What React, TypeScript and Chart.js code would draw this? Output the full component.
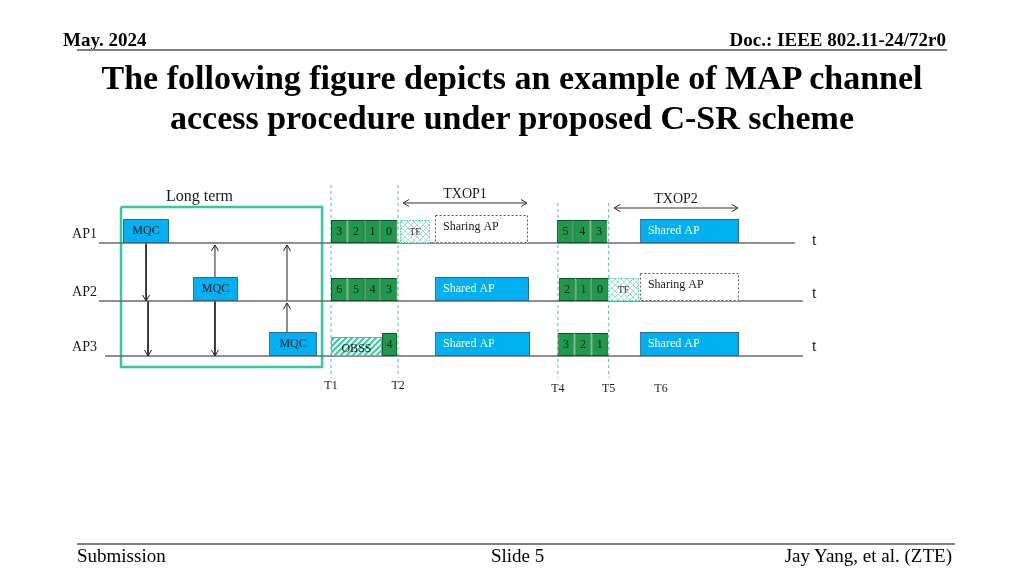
import React, { useEffect, useRef } from "react";
import { Chart, registerables } from "chart.js";

Chart.register(...registerables);

// ---------------- DATA (time in backoff slots, T1 = 0) ----------------
const ROWS = ["AP1", "AP2", "AP3"];

// frames per AP: [kind, label, start slot, end slot]
type Frame = [string, string, number, number];
const AP1_FRAMES: Frame[] = [
  ["mqc", "MQC", -12.53, -9.76],
  ["backoff", "3", 0, 1], ["backoff", "2", 1, 2], ["backoff", "1", 2, 3], ["backoff", "0", 3, 4],
  ["tf", "TF", 4.16, 5.96],
  ["sharing", "Sharing AP", 6.27, 11.87],
  ["backoff", "5", 13.62, 14.63], ["backoff", "4", 14.63, 15.64], ["backoff", "3", 15.64, 16.65],
  ["shared", "Shared AP", 18.61, 24.58],
];
const AP2_FRAMES: Frame[] = [
  ["mqc", "MQC", -8.31, -5.6],
  ["backoff", "6", 0, 1], ["backoff", "5", 1, 2], ["backoff", "4", 2, 3], ["backoff", "3", 3, 4],
  ["shared", "Shared AP", 6.27, 11.93],
  ["backoff", "2", 13.73, 14.72], ["backoff", "1", 14.72, 15.71], ["backoff", "0", 15.71, 16.7],
  ["tf", "TF", 16.7, 18.55],
  ["sharing", "Sharing AP", 18.61, 24.58],
];
const AP3_FRAMES: Frame[] = [
  ["mqc", "MQC", -3.73, -0.84],
  ["obss", "OBSS", 0, 3.07], ["backoff", "4", 3.07, 3.98],
  ["shared", "Shared AP", 6.27, 11.99],
  ["backoff", "3", 13.65, 14.67], ["backoff", "2", 14.67, 15.69], ["backoff", "1", 15.69, 16.7],
  ["shared", "Shared AP", 18.61, 24.58],
];

const ROW_LINE_START = [-13.98, -13.98, -13.61];
const ROW_LINE_END = [27.95, 28.43, 28.43];

const T_LABELS = ["T1", "T2", "T4", "T5", "T6"];
const T_TIMES = [0, 4.04, 13.67, 16.73, 19.88];
const T_HAS_LINE = [true, true, true, true, false];

const TXOP_LABELS = ["TXOP1", "TXOP2"];
const TXOP_START = [4.34, 17.05];
const TXOP_END = [11.81, 24.52];

const LONG_TERM_LABEL = "Long term";
const LONG_TERM_START = -12.65;
const LONG_TERM_END = -0.54;
const LONG_TERM_LABEL_AT = -7.92;

// MQC signalling links: [time, MQC row, from row, to row]
const MQC_LINKS: [number, number, number, number][] = [
  [-11.14, 0, 0, 1], [-11.02, 0, 1, 2],
  [-6.99, 1, 1, 0], [-6.99, 1, 1, 2],
  [-2.65, 2, 2, 1], [-2.65, 2, 1, 0],
];

// ---------------- LAYOUT / STYLE ----------------
const X_MIN = -19.94;
const X_MAX = 41.75;
const ROW_LEVEL = [243, 301, 356];
const TXOP_LEVEL = [203, 208];
const LONG_TERM_TOP = 207;
const LONG_TERM_BOTTOM = 367;
const T_LINE_TOP = [185, 185, 203, 203, 203];
const T_LINE_BOTTOM = 378;
const T_LABEL_LEVEL = [389, 389, 392, 392, 392];
const T_MARK_LEVEL = [245, 298, 351];
const AP_LABEL_X = -15.6;
const T_MARK_X = 28.98;

const SERIF = '"Liberation Serif", "Times New Roman", serif';
const GREEN = "#1f9a4c";
const GREEN_EDGE = "#0d5427";
const BLUE = "#00b0f0";
const BLUE_EDGE = "#2a6a94";
const TEAL = "#3cc8a2";
const DARK = "#1a1a1a";

type KindStyle = {
  h: number; stroke: string; bw: number; text: string; fs: number;
  align: "left" | "center"; dash?: number[]; dashColor?: string;
};
const KIND: Record<string, KindStyle> = {
  backoff: { h: 23, stroke: GREEN_EDGE, bw: 1, text: DARK, fs: 12, align: "center" },
  mqc: { h: 24, stroke: BLUE_EDGE, bw: 1, text: DARK, fs: 12, align: "center" },
  shared: { h: 24, stroke: BLUE_EDGE, bw: 1, text: "#ffffff", fs: 12, align: "left" },
  sharing: { h: 28, stroke: "rgba(0,0,0,0)", bw: 0, text: DARK, fs: 12, align: "left", dash: [2, 2], dashColor: "#555555" },
  tf: { h: 23, stroke: "rgba(0,0,0,0)", bw: 0, text: "#333333", fs: 10, align: "center", dash: [1.5, 1.5], dashColor: TEAL },
  obss: { h: 19, stroke: TEAL, bw: 1, text: DARK, fs: 12, align: "center" },
};

const ALL_FRAMES = [AP1_FRAMES, AP2_FRAMES, AP3_FRAMES].flatMap((list, row) =>
  list.map(([kind, label, start, end]) => ({ row, kind, label, start, end }))
);

function makePattern(kind: "stripe" | "cross"): CanvasPattern | string {
  const c = document.createElement("canvas");
  c.width = 6; c.height = 6;
  const g = c.getContext("2d");
  if (!g) return "#ffffff";
  g.fillStyle = "#ffffff";
  g.fillRect(0, 0, 6, 6);
  g.strokeStyle = kind === "stripe" ? TEAL : "#8fdcc4";
  g.lineWidth = kind === "stripe" ? 2 : 0.8;
  g.beginPath();
  g.moveTo(-1, 7); g.lineTo(7, -1);
  g.moveTo(-4, 4); g.lineTo(4, -4);
  g.moveTo(2, 10); g.lineTo(10, 2);
  if (kind === "cross") {
    g.moveTo(-1, -1); g.lineTo(7, 7);
    g.moveTo(-4, 2); g.lineTo(4, 10);
    g.moveTo(2, -4); g.lineTo(10, 4);
  }
  g.stroke();
  return g.createPattern(c, "repeat") || "#ffffff";
}

function arrowHead(ctx: CanvasRenderingContext2D, x: number, y: number, dx: number, dy: number) {
  const len = 6, w = 3.5;
  ctx.beginPath();
  ctx.moveTo(x - dx * len - dy * w, y - dy * len + dx * w);
  ctx.lineTo(x, y);
  ctx.lineTo(x - dx * len + dy * w, y - dy * len - dx * w);
  ctx.stroke();
}

function linkEnds(link: [number, number, number, number]) {
  const [, mqcRow, from, to] = link;
  const up = to < from;
  const y0 = from === mqcRow && up ? ROW_LEVEL[from] - KIND.mqc.h : ROW_LEVEL[from];
  const y1 = up ? ROW_LEVEL[to] + 2 : ROW_LEVEL[to];
  return { y0, y1, up };
}

const diagramPlugin = {
  id: "diagram",
  afterDatasetsDraw(chart: any) {
    const ctx: CanvasRenderingContext2D = chart.ctx;
    const xs = chart.scales.x;
    const ys = chart.scales.y;
    const X = (t: number) => xs.getPixelForValue(t);
    const Y = (v: number) => ys.getPixelForValue(v);
    ctx.save();

    // frame dashed borders + labels
    ALL_FRAMES.forEach((f) => {
      const st = KIND[f.kind];
      const left = X(f.start), right = X(f.end);
      const bottom = Y(ROW_LEVEL[f.row]);
      const top = Y(ROW_LEVEL[f.row] - st.h);
      if (st.dash) {
        ctx.setLineDash(st.dash);
        ctx.strokeStyle = st.dashColor || "#555";
        ctx.lineWidth = 1;
        ctx.strokeRect(left + 0.5, top + 0.5, right - left - 1, bottom - top - 1);
        ctx.setLineDash([]);
      }
      ctx.font = `${st.fs}px ${SERIF}`;
      ctx.fillStyle = st.text;
      ctx.textBaseline = "middle";
      const ty = Y(ROW_LEVEL[f.row] - st.h + 12);
      if (st.align === "left") {
        ctx.textAlign = "left";
        ctx.fillText(f.label, left + 8, ty);
      } else {
        ctx.textAlign = "center";
        ctx.fillText(f.label, (left + right) / 2, ty);
      }
    });

    // arrow heads for MQC links
    ctx.strokeStyle = "#222222";
    ctx.lineWidth = 1;
    MQC_LINKS.forEach((l) => {
      const { y1, up } = linkEnds(l);
      arrowHead(ctx, X(l[0]), Y(y1), 0, up ? -1 : 1);
    });
    // TXOP arrows
    ctx.strokeStyle = "#333333";
    TXOP_LABELS.forEach((lab, i) => {
      const y = Y(TXOP_LEVEL[i]);
      arrowHead(ctx, X(TXOP_START[i]), y, -1, 0);
      arrowHead(ctx, X(TXOP_END[i]), y, 1, 0);
      ctx.font = `14px ${SERIF}`;
      ctx.fillStyle = DARK;
      ctx.textAlign = "center";
      ctx.textBaseline = "alphabetic";
      ctx.fillText(lab, X((TXOP_START[i] + TXOP_END[i]) / 2), y - 5);
    });

    ctx.fillStyle = DARK;
    ctx.textBaseline = "alphabetic";
    // AP labels + t marks
    ROWS.forEach((r, i) => {
      ctx.font = `14px ${SERIF}`;
      ctx.textAlign = "left";
      ctx.fillText(r, X(AP_LABEL_X), Y(ROW_LEVEL[i] - 5));
      ctx.font = `16px ${SERIF}`;
      ctx.fillText("t", X(T_MARK_X), Y(T_MARK_LEVEL[i]));
    });
    // T labels
    ctx.font = `12px ${SERIF}`;
    ctx.textAlign = "center";
    T_LABELS.forEach((lab, i) => ctx.fillText(lab, X(T_TIMES[i]), Y(T_LABEL_LEVEL[i])));
    // Long term
    ctx.font = `16px ${SERIF}`;
    ctx.fillText(LONG_TERM_LABEL, X(LONG_TERM_LABEL_AT), Y(LONG_TERM_TOP - 6));
    ctx.restore();
  },
};

function buildDatasets(stripe: any, cross: any) {
  const ds: any[] = [];
  Object.keys(KIND).forEach((kind) => {
    const st = KIND[kind];
    const pts = ALL_FRAMES.filter((f) => f.kind === kind).map((f) => ({
      x: [f.start, f.end],
      y: ROW_LEVEL[f.row] - st.h / 2,
    }));
    const fill =
      kind === "backoff" ? GREEN :
      kind === "mqc" || kind === "shared" ? BLUE :
      kind === "obss" ? stripe :
      kind === "tf" ? cross : "#ffffff";
    ds.push({
      type: "bar",
      indexAxis: "y",
      label: kind,
      data: pts,
      backgroundColor: fill,
      borderColor: st.stroke,
      borderWidth: st.bw,
      borderSkipped: false,
      barThickness: st.h,
      grouped: false,
      inflateAmount: 0,
      order: 1,
    });
  });
  const line = (data: { x: number; y: number }[], color: string, width: number, dash: number[] = []) => ({
    type: "line",
    data,
    borderColor: color,
    borderWidth: width,
    borderDash: dash,
    pointRadius: 0,
    fill: false,
    tension: 0,
    order: 2,
  });
  ROWS.forEach((_, i) =>
    ds.push(line([{ x: ROW_LINE_START[i], y: ROW_LEVEL[i] }, { x: ROW_LINE_END[i], y: ROW_LEVEL[i] }], "#6a6a6a", 1.5))
  );
  T_TIMES.forEach((t, i) => {
    if (T_HAS_LINE[i]) ds.push(line([{ x: t, y: T_LINE_TOP[i] }, { x: t, y: T_LINE_BOTTOM }], TEAL, 1, [3, 3]));
  });
  ds.push(
    line(
      [
        { x: LONG_TERM_START, y: LONG_TERM_TOP },
        { x: LONG_TERM_END, y: LONG_TERM_TOP },
        { x: LONG_TERM_END, y: LONG_TERM_BOTTOM },
        { x: LONG_TERM_START, y: LONG_TERM_BOTTOM },
        { x: LONG_TERM_START, y: LONG_TERM_TOP },
      ],
      "#34c9a0",
      2.5
    )
  );
  MQC_LINKS.forEach((l) => {
    const { y0, y1 } = linkEnds(l);
    ds.push(line([{ x: l[0], y: y0 }, { x: l[0], y: y1 }], "#222222", 1));
  });
  TXOP_LABELS.forEach((_, i) =>
    ds.push(line([{ x: TXOP_START[i], y: TXOP_LEVEL[i] }, { x: TXOP_END[i], y: TXOP_LEVEL[i] }], "#333333", 1.2))
  );
  return ds;
}

const textStyle = (fs: number, baseline: number, extra: React.CSSProperties = {}): React.CSSProperties => ({
  position: "absolute",
  top: baseline - 0.8375 * fs,
  fontSize: fs,
  lineHeight: `${fs}px`,
  whiteSpace: "nowrap",
  ...extra,
});

export default function App() {
  const ref = useRef<HTMLCanvasElement>(null);
  useEffect(() => {
    if (!ref.current) return;
    const stripe = makePattern("stripe");
    const cross = makePattern("cross");
    const chart = new Chart(ref.current, {
      type: "bar",
      data: { datasets: buildDatasets(stripe, cross) },
      options: {
        animation: false,
        responsive: false,
        events: [],
        layout: { padding: 0 },
        plugins: { legend: { display: false }, tooltip: { enabled: false }, title: { display: false } },
        scales: {
          x: { type: "linear", min: X_MIN, max: X_MAX, display: false, offset: false, bounds: "data" },
          y: { type: "linear", min: 0, max: 576, reverse: true, display: false, offset: false, bounds: "data" },
        },
      } as any,
      plugins: [diagramPlugin],
    } as any);
    return () => chart.destroy();
  }, []);

  return (
    <div
      style={{
        position: "fixed", left: 0, top: 0, width: 1024, height: 576, background: "#ffffff",
        overflow: "hidden", fontFamily: SERIF, color: "#000000",
      }}
    >
      <canvas ref={ref} width={1024} height={576} style={{ position: "absolute", left: 0, top: 0 }} />
      <div style={textStyle(19, 46, { left: 63, fontWeight: "bold" })}>May. 2024</div>
      <div style={textStyle(19, 46, { right: 78, fontWeight: "bold" })}>Doc.: IEEE 802.11-24/72r0</div>
      <div style={{ position: "absolute", left: 77, top: 49, width: 870, height: 2, background: "#7f7f7f" }} />
      <div style={textStyle(34, 89, { left: 0, width: 1024, textAlign: "center", fontWeight: "bold" })}>
        The following figure depicts an example of MAP channel
      </div>
      <div style={textStyle(34, 129, { left: 0, width: 1024, textAlign: "center", fontWeight: "bold" })}>
        access procedure under proposed C-SR scheme
      </div>
      <div style={{ position: "absolute", left: 77, top: 543, width: 878, height: 2, background: "#7f7f7f" }} />
      <div style={textStyle(19, 562, { left: 77 })}>Submission</div>
      <div style={textStyle(19, 562, { left: 491 })}>Slide 5</div>
      <div style={textStyle(19, 562, { right: 72 })}>Jay Yang, et al. (ZTE)</div>
    </div>
  );
}
